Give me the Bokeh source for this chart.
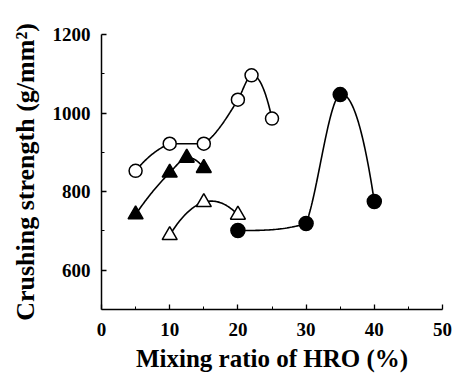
import numpy as np
from bokeh.plotting import figure
from bokeh.models import FixedTicker, Range1d
from bokeh.embed import file_html
from bokeh.resources import INLINE

# Data
open_circle_x = [5, 10, 15, 20, 22, 25]
open_circle_y = [853, 922, 922, 1034, 1096, 986]
filled_tri_x = [5, 10, 12.5, 15]
filled_tri_y = [742, 848, 886, 860]
open_tri_x = [10, 15, 20]
open_tri_y = [689, 773, 741]
filled_circle_x = [20, 30, 35, 40]
filled_circle_y = [701, 719, 1047, 775]

x_major = [0, 10, 20, 30, 40, 50]
x_minor = [5, 15, 25, 35, 45]
y_major = [600, 800, 1000, 1200]
y_minor = [700, 900, 1100]


def smooth(xs, ys, n=40):
    """Piecewise cubic Hermite curve through the points (parabolic tangents,
    limited per segment)."""
    x = np.array(xs, float)
    y = np.array(ys, float)
    h = np.diff(x)
    d = np.diff(y) / h
    N = len(x)
    m = np.zeros(N)
    for i in range(1, N - 1):
        m[i] = (h[i] * d[i - 1] + h[i - 1] * d[i]) / (h[i - 1] + h[i])
    if N > 2:
        m[0] = ((2 * h[0] + h[1]) * d[0] - h[0] * d[1]) / (h[0] + h[1])
        if np.sign(m[0]) != np.sign(d[0]):
            m[0] = 0.0
        m[-1] = ((2 * h[-1] + h[-2]) * d[-1] - h[-1] * d[-2]) / (h[-1] + h[-2])
        if np.sign(m[-1]) != np.sign(d[-1]):
            m[-1] = 0.0
    else:
        m[:] = d[0]
    cx, cy = [], []
    for k in range(N - 1):
        lim = 3 * abs(d[k])
        m0 = np.clip(m[k], -lim, lim)
        m1 = np.clip(m[k + 1], -lim, lim)
        t = np.linspace(0, 1, n)
        h00 = 2 * t**3 - 3 * t**2 + 1
        h10 = t**3 - 2 * t**2 + t
        h01 = -2 * t**3 + 3 * t**2
        h11 = t**3 - t**2
        cx.append(x[k] + t * h[k])
        cy.append(h00 * y[k] + h10 * h[k] * m0 + h01 * y[k + 1] + h11 * h[k] * m1)
    return np.concatenate(cx), np.concatenate(cy)


p = figure(width=453, height=374, output_backend="svg", toolbar_location=None,
           x_range=Range1d(0, 50), y_range=Range1d(500, 1200),
           min_border_left=101, min_border_right=11, min_border_top=34,
           min_border_bottom=65)
p.outline_line_color = None
p.grid.visible = False
p.background_fill_color = "white"
p.border_fill_color = "white"

FONT = "Liberation Serif"
for ax in (p.xaxis[0], p.yaxis[0]):
    ax.axis_line_color = "black"
    ax.axis_line_width = 1.5
    ax.major_tick_line_color = "black"
    ax.minor_tick_line_color = "black"
    ax.major_tick_line_width = 1.3
    ax.minor_tick_line_width = 1.0
    ax.major_tick_in = 5
    ax.major_tick_out = 0
    ax.minor_tick_in = 3
    ax.minor_tick_out = 0
    ax.major_label_text_font = FONT
    ax.major_label_text_font_style = "bold"
    ax.major_label_text_font_size = "19px"
    ax.major_label_text_color = "black"
    ax.axis_label_text_font = FONT
    ax.axis_label_text_font_style = "bold"
    ax.axis_label_text_color = "black"

p.xaxis.axis_label_text_font_size = "25px"
p.yaxis.axis_label_text_font_size = "26px"
p.xaxis.ticker = FixedTicker(ticks=x_major, minor_ticks=x_minor)
p.yaxis.ticker = FixedTicker(ticks=y_major, minor_ticks=y_minor)
p.xaxis.major_label_standoff = 13
p.yaxis.major_label_standoff = 11
p.xaxis.axis_label = "Mixing ratio of HRO (%)"
p.yaxis.axis_label = "Crushing strength (g/mm²)"
p.xaxis.axis_label_standoff = 6
p.yaxis.axis_label_standoff = 10

series = [
    (open_circle_x, open_circle_y, "circle", "white", 13),
    (filled_tri_x, filled_tri_y, "triangle", "black", 15),
    (open_tri_x, open_tri_y, "triangle", "white", 15),
    (filled_circle_x, filled_circle_y, "circle", "black", 14),
]
for xs, ys, mk, fill, size in series:
    cx, cy = smooth(xs, ys)
    p.line(cx, cy, line_color="black", line_width=1.6)
for xs, ys, mk, fill, size in series:
    p.scatter(xs, ys, marker=mk, size=size, fill_color=fill,
              line_color="black", line_width=1.5)

open("out.html", "w").write(file_html(p, INLINE))
